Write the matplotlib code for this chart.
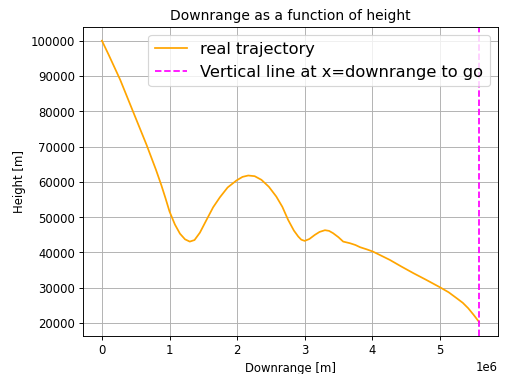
import matplotlib
matplotlib.use("Agg")
import matplotlib.pyplot as plt

downrange = [0.00e6, 0.10e6, 0.27e6, 0.46e6, 0.66e6, 0.80e6, 0.88e6, 0.94e6, 1.00e6, 1.08e6, 1.155e6,
             1.23e6, 1.30e6, 1.37e6, 1.45e6, 1.55e6, 1.646e6, 1.745e6, 1.86e6, 1.99e6, 2.08e6, 2.165e6,
             2.26e6, 2.36e6, 2.47e6, 2.58e6, 2.67e6, 2.755e6, 2.84e6, 2.905e6, 2.95e6, 3.00e6,
             3.07e6, 3.15e6, 3.22e6, 3.30e6, 3.36e6, 3.42e6, 3.50e6, 3.57e6, 3.67e6, 3.75e6,
             3.82e6, 3.92e6, 4.01e6, 4.13e6, 4.26e6, 4.43e6, 4.61e6, 4.80e6, 5.00e6, 5.13e6,
             5.25e6, 5.34e6, 5.42e6, 5.50e6, 5.58e6]
height = [100000, 96000, 88940, 79940, 70500, 63400, 59000, 55400, 51600, 47900, 45300,
          43700, 43060, 43500, 45600, 49300, 52800, 55600, 58400, 60370, 61400, 61790,
          61600, 60570, 58600, 55830, 52900, 49220, 46200, 44490, 43600, 43260,
          43800, 44960, 45800, 46290, 46100, 45450, 44300, 43060, 42600, 42100,
          41470, 40850, 40230, 39100, 37870, 36000, 34100, 32200, 30130, 28700,
          27000, 25700, 24170, 22300, 20300]
downrange_to_go = 5.58e6

DPI = 250 / 3
fig = plt.figure(figsize=(506.4 / DPI, 374.4 / DPI), dpi=DPI)
ax = fig.add_axes([83 / 506, 1 - 336 / 374, (497.5 - 83) / 506, (336 - 27) / 374])
ax.plot(downrange, height, color="orange", label="real trajectory")
ax.axvline(downrange_to_go, color="magenta", linestyle="--", label="Vertical line at x=downrange to go")
ax.set_title("Downrange as a function of height")
ax.set_xlabel("Downrange [m]")
ax.set_ylabel("Height [m]")
ax.grid(True)
ax.legend(loc="upper right", fontsize=14)
fig.savefig("out.png", dpi=DPI)
